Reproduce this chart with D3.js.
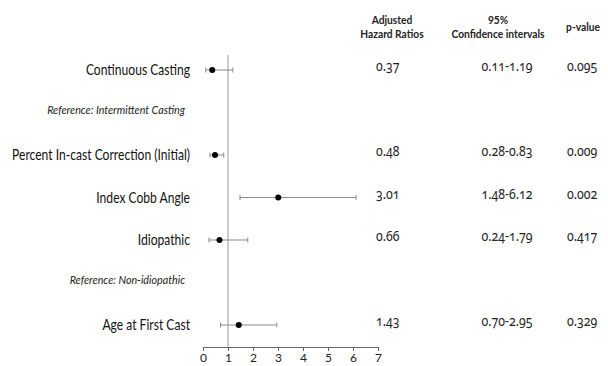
<!DOCTYPE html>
<html>
<head>
<meta charset="utf-8">
<script src="https://cdn.jsdelivr.net/npm/d3@7"></script>
<style>
  html, body { margin: 0; padding: 0; background: #fff; }
  svg { display: block; }
</style>
</head>
<body>
<svg id="chart" width="608" height="366"></svg>
<script>
// ---------- data ----------
const rowLabels = [
  "Continuous Casting",
  "Reference: Intermittent Casting",
  "Percent In-cast Correction (Initial)",
  "Index Cobb Angle",
  "Idiopathic",
  "Reference: Non-idiopathic",
  "Age at First Cast"
];
const isReference = [false, true, false, false, false, true, false];
const hazardRatios = [0.37, null, 0.48, 3.01, 0.66, null, 1.43];
const ciLower      = [0.11, null, 0.28, 1.48, 0.24, null, 0.70];
const ciUpper      = [1.19, null, 0.83, 6.12, 1.79, null, 2.95];
const hrText   = ["0.37", "", "0.48", "3.01", "0.66", "", "1.43"];
const ciText   = ["0.11-1.19", "", "0.28-0.83", "1.48-6.12", "0.24-1.79", "", "0.70-2.95"];
const pText    = ["0.095", "", "0.009", "0.002", "0.417", "", "0.329"];
const headerHR = ["Adjusted", "Hazard Ratios"];
const headerCI = ["95%", "Confidence intervals"];
const headerP  = ["p-value"];
const xTicks = [0, 1, 2, 3, 4, 5, 6, 7];
const referenceValue = 1;

// ---------- layout ----------
const svg = d3.select("#chart");
const x = d3.scaleLinear().domain([0, 7]).range([203, 378]);
const y = d3.scalePoint().domain(d3.range(rowLabels.length)).range([70, 325]);
const axisY = 347;
const labelFont = "Lato, 'Open Sans', sans-serif";

function squeeze(sel, sx) {
  sel.each(function () {
    const t = d3.select(this);
    const tx = +t.attr("x"), ty = +t.attr("y");
    t.attr("x", 0).attr("y", 0).attr("transform", `translate(${tx},${ty}) scale(${sx},1)`);
  });
}
function fitScale(sel, target) {
  let maxW = 0;
  sel.each(function () { maxW = Math.max(maxW, this.getComputedTextLength()); });
  return maxW > 0 ? target / maxW : 1;
}

// reference line
svg.append("line")
  .attr("x1", x(referenceValue)).attr("x2", x(referenceValue))
  .attr("y1", 55).attr("y2", axisY)
  .attr("stroke", "#cdcdcd").attr("stroke-width", 2);

// axis
const axisG = svg.append("g")
  .attr("transform", `translate(0,${axisY})`)
  .call(d3.axisBottom(x).tickValues(xTicks).tickFormat(d3.format("d")).tickSize(4).tickPadding(2).tickSizeOuter(0));
axisG.select(".domain").attr("stroke", "#666");
axisG.selectAll(".tick line").attr("stroke", "#666");
axisG.selectAll(".tick text").attr("font-family", labelFont).attr("font-size", 12).attr("fill", "#222");

// row labels
const labelsG = svg.append("g");
const mainLabels = labelsG.selectAll("text.main")
  .data(d3.range(rowLabels.length).filter(i => !isReference[i]))
  .join("text").attr("class", "main")
  .attr("x", 190).attr("y", i => y(i) + 5)
  .attr("text-anchor", "end")
  .attr("font-family", labelFont).attr("font-size", 14.5).attr("fill", "#111")
  .text(i => rowLabels[i]);
const sxLabel = fitScale(mainLabels, 178);
squeeze(mainLabels, sxLabel);

const refLabels = labelsG.selectAll("text.ref")
  .data(d3.range(rowLabels.length).filter(i => isReference[i]))
  .join("text").attr("class", "ref")
  .attr("x", 185).attr("y", i => y(i) + 1)
  .attr("text-anchor", "end")
  .attr("font-family", labelFont).attr("font-size", 11.5).attr("font-style", "italic").attr("fill", "#222")
  .text(i => rowLabels[i]);
const sxRef = fitScale(refLabels, 138);
squeeze(refLabels, sxRef);

// CI whiskers and points
const est = d3.range(rowLabels.length).filter(i => hazardRatios[i] != null);
const ciG = svg.append("g");
ciG.selectAll("line.ci").data(est).join("line").attr("class", "ci")
  .attr("x1", i => x(ciLower[i])).attr("x2", i => x(ciUpper[i]))
  .attr("y1", i => y(i)).attr("y2", i => y(i))
  .attr("stroke", "#8a8a8a").attr("stroke-width", 1);
ciG.selectAll("line.capL").data(est).join("line").attr("class", "capL")
  .attr("x1", i => x(ciLower[i])).attr("x2", i => x(ciLower[i]))
  .attr("y1", i => y(i) - 2.5).attr("y2", i => y(i) + 2.5)
  .attr("stroke", "#8a8a8a").attr("stroke-width", 1);
ciG.selectAll("line.capR").data(est).join("line").attr("class", "capR")
  .attr("x1", i => x(ciUpper[i])).attr("x2", i => x(ciUpper[i]))
  .attr("y1", i => y(i) - 2.5).attr("y2", i => y(i) + 2.5)
  .attr("stroke", "#8a8a8a").attr("stroke-width", 1);
ciG.selectAll("circle").data(est).join("circle")
  .attr("cx", i => x(hazardRatios[i])).attr("cy", i => y(i)).attr("r", 3)
  .attr("fill", "#000");

// headers
const headG = svg.append("g");
const colHR = 392, colCI = 498, colP = 583;
const hdrFont = "Lato, 'Open Sans', sans-serif";
const hdr = [];
headerHR.forEach((t, k) => hdr.push({ t, x: colHR, y: 24 + k * 14 }));
headerCI.forEach((t, k) => hdr.push({ t, x: colCI, y: 24 + k * 14 }));
headerP.forEach((t) => hdr.push({ t, x: colP, y: 31 }));
const hdrText = headG.selectAll("text").data(hdr).join("text")
  .attr("x", d => d.x).attr("y", d => d.y)
  .attr("text-anchor", "middle")
  .attr("font-family", hdrFont).attr("font-size", 11.5).attr("font-weight", "bold").attr("fill", "#222")
  .text(d => d.t);
const sxHdr = Math.min(1, fitScale(hdrText.filter(d => d.t === "Confidence intervals"), 93));
squeeze(hdrText, sxHdr);

// values
const valG = svg.append("g");
const numFont = "'Noto Sans', Lato, sans-serif";
const vals = [];
est.forEach(i => {
  vals.push({ t: hrText[i], x: 376, y: y(i) + 1, a: "start" });
  vals.push({ t: ciText[i], x: 507, y: y(i) + 1, a: "middle" });
  vals.push({ t: pText[i], x: 567, y: y(i) + 1, a: "start" });
});
const valText = valG.selectAll("text").data(vals).join("text")
  .attr("x", d => d.x).attr("y", d => d.y)
  .attr("text-anchor", d => d.a)
  .attr("font-family", numFont).attr("font-size", 14).attr("fill", "#222")
  .style("font-variant-numeric", "oldstyle-nums")
  .text(d => d.t);
const sxVal = Math.min(1, fitScale(valText.filter(d => d.t === "0.11-1.19"), 51));
squeeze(valText, sxVal);
</script>
</body>
</html>
